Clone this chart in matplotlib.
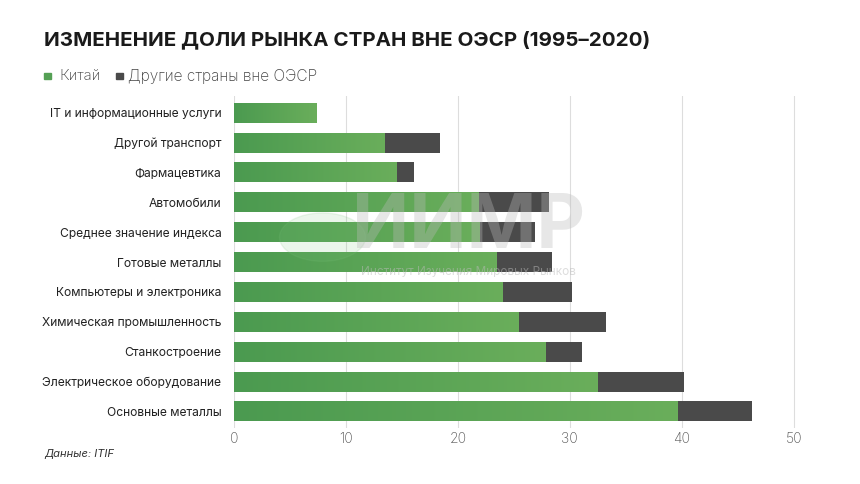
import numpy as np
import matplotlib
matplotlib.use("Agg")
import matplotlib.pyplot as plt
from matplotlib.colors import LinearSegmentedColormap

plt.rcParams['font.family'] = ['Inter', 'DejaVu Sans']

categories = ['IT и информационные услуги', 'Другой транспорт', 'Фармацевтика',
              'Автомобили', 'Среднее значение индекса', 'Готовые металлы',
              'Компьютеры и электроника', 'Химическая промышленность',
              'Станкостроение', 'Электрическое оборудование', 'Основные металлы']
china = [7.4, 13.4, 14.5, 21.8, 21.9, 23.4, 24.0, 25.4, 27.8, 32.5, 39.6]
total = [7.4, 18.4, 16.1, 28.1, 26.9, 28.4, 30.2, 33.2, 31.1, 40.2, 46.3]
other = [t - c for t, c in zip(total, china)]
xticks = [0, 10, 20, 30, 40, 50]

green = '#55a055'
grey = '#4a4a4a'
grad = LinearSegmentedColormap.from_list('g', ['#4b9a50', '#6aae5b'])

fig = plt.figure(figsize=(8.6, 4.84), dpi=100)
ax = fig.add_axes([0.272, 0.116, 0.664, 0.685])

y = np.arange(len(categories))
h = 0.67
bars = ax.barh(y, china, height=h, color=green, zorder=2)
ax.barh(y, other, left=china, height=h, color=grey, zorder=2)

# горизонтальный градиент на зелёных столбцах
g = np.linspace(0, 1, 256).reshape(1, -1)
for b in bars:
    x0, y0 = b.get_x(), b.get_y()
    im = ax.imshow(g, cmap=grad, aspect='auto', zorder=3,
                   extent=[x0, x0 + b.get_width(), y0 + b.get_height(), y0])
    im.set_clip_path(b)

ax.set_xlim(0, 51)
ax.set_ylim(len(categories) - 0.45, -0.55)
ax.set_xticks(xticks)
ax.set_yticks(y)
ax.set_yticklabels(categories, fontsize=8.7, color='#222222')
ax.tick_params(axis='x', length=0, labelsize=10, labelcolor='#555555', pad=3)
ax.tick_params(axis='y', length=0, pad=9)
for lab in ax.get_xticklabels():
    lab.set_fontweight('light')
ax.grid(axis='x', color='#dddddd', linewidth=0.8, zorder=0)
for s in ax.spines.values():
    s.set_visible(False)

fig.text(0.051, 0.917, 'ИЗМЕНЕНИЕ ДОЛИ РЫНКА СТРАН ВНЕ ОЭСР (1995–2020)',
         fontsize=14.8, fontweight='bold', color='#1a1a1a', va='center')

# легенда
fig.patches.append(plt.Rectangle((0.051, 0.836), 0.008, 0.014, color='#55a055',
                                 transform=fig.transFigure, figure=fig))
fig.text(0.069, 0.842, 'Китай', fontsize=10.8, fontweight='light', color='#444444',
         va='center')
fig.patches.append(plt.Rectangle((0.135, 0.836), 0.008, 0.014, color=grey,
                                 transform=fig.transFigure, figure=fig))
fig.text(0.149, 0.842, 'Другие страны вне ОЭСР', fontsize=11.2, fontweight='light',
         color='#444444', va='center')

fig.text(0.051, 0.063, 'Данные: ITIF', fontsize=8, style='italic', color='#333333',
         va='center')

# водяной знак
fig.text(0.545, 0.527, 'ИИМР', fontsize=54, fontweight='bold', color='#bbbbbb',
         alpha=0.35, ha='center', va='center', zorder=10)
fig.text(0.545, 0.438, 'Институт Изучения Мировых Рынков', fontsize=8.5,
         color='#bbbbbb', alpha=0.5, ha='center', va='center', zorder=10)
fig.patches.append(plt.Circle((0.375, 0.51), 0.05, color='#7cc47c', alpha=0.15,
                              transform=fig.transFigure, figure=fig, zorder=10))

fig.savefig('out.png', dpi=100)
